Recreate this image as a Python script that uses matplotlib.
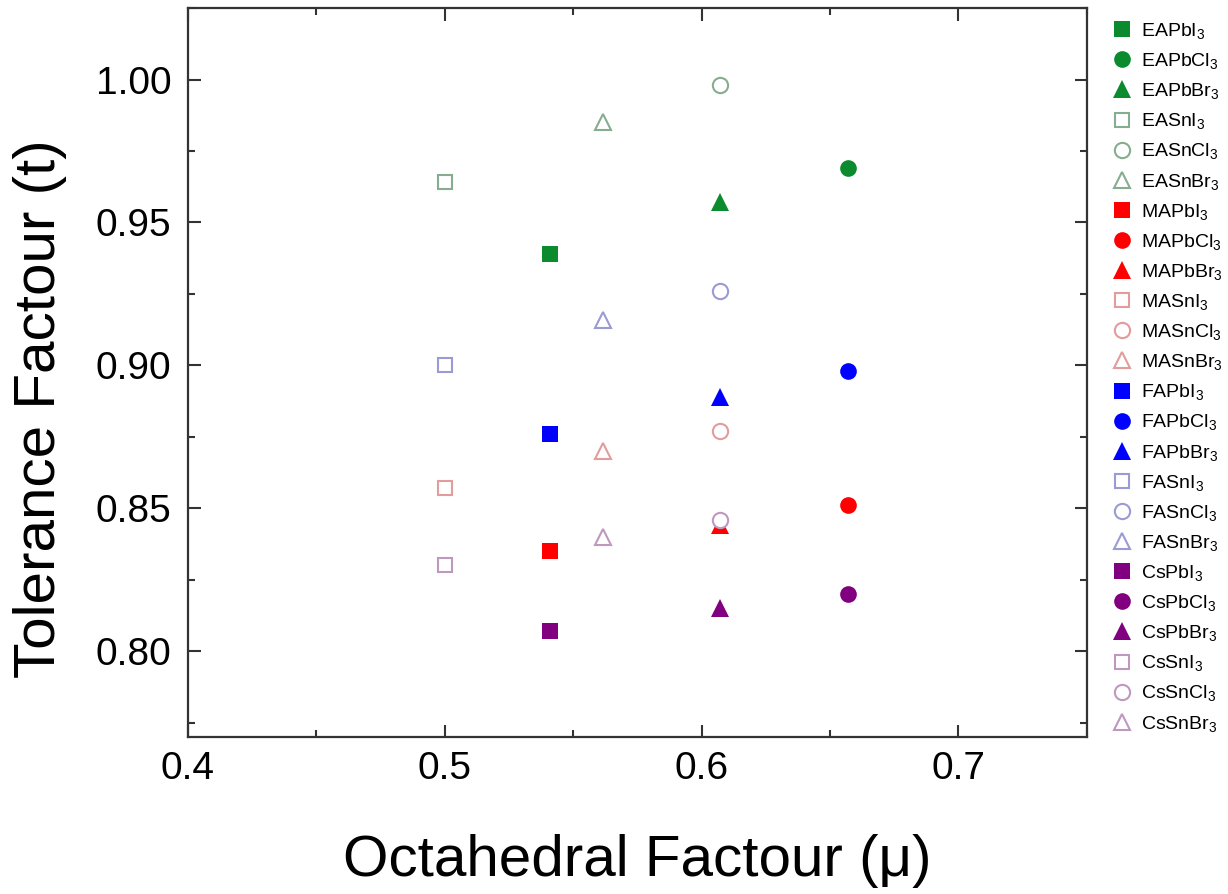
import matplotlib
matplotlib.use("Agg")
import matplotlib.pyplot as plt
from matplotlib.ticker import MultipleLocator, FormatStrFormatter

#######################data########################
cations = ["EA", "MA", "FA", "Cs"]
anions = ["PbI", "PbCl", "PbBr", "SnI", "SnCl", "SnBr"]
# octahedral factor (mu) for each B-X combination, same for every cation
mu_values = [0.541, 0.657, 0.607, 0.500, 0.607, 0.5615]
# tolerance factor (t) per cation, same order as anions
t_ea = [0.939, 0.969, 0.957, 0.964, 0.998, 0.985]
t_ma = [0.835, 0.851, 0.844, 0.857, 0.877, 0.870]
t_fa = [0.876, 0.898, 0.889, 0.900, 0.926, 0.916]
t_cs = [0.807, 0.820, 0.815, 0.830, 0.846, 0.840]
t_values = [t_ea, t_ma, t_fa, t_cs]

#######################styles########################
solid_colors = ["#0b8a2e", "#ff0000", "#0000ff", "#800080"]
open_colors = ["#86ad90", "#e29c9c", "#9a9ad4", "#bf98bf"]
markers = ["s", "o", "^", "s", "o", "^"]
marker_sizes = {"s": 11, "o": 12, "^": 13}

plt.rcParams["font.family"] = ["Liberation Sans", "DejaVu Sans"]
plt.rcParams["mathtext.default"] = "regular"

fig = plt.figure(figsize=(12.28, 8.94), dpi=100)
ax = fig.add_axes([0.153, 0.1756, 0.732, 0.8154])

for ci, cation in enumerate(cations):
    for ai, anion in enumerate(anions):
        m = markers[ai]
        label = cation + anion + "$_3$"
        if ai < 3:
            ax.plot(mu_values[ai], t_values[ci][ai], linestyle="none", marker=m,
                    markersize=marker_sizes[m], color=solid_colors[ci],
                    markeredgewidth=0, label=label)
        else:
            ax.plot(mu_values[ai], t_values[ci][ai], linestyle="none", marker=m,
                    markersize=marker_sizes[m] - 1, markerfacecolor="white",
                    markeredgecolor=open_colors[ci], markeredgewidth=1.5,
                    label=label)

#######################axes########################
ax.set_xlim(0.4, 0.75)
ax.set_ylim(0.77, 1.025)
ax.xaxis.set_major_locator(MultipleLocator(0.1))
ax.xaxis.set_minor_locator(MultipleLocator(0.05))
ax.yaxis.set_major_locator(MultipleLocator(0.05))
ax.yaxis.set_minor_locator(MultipleLocator(0.025))
ax.xaxis.set_major_formatter(FormatStrFormatter("%.1f"))
ax.yaxis.set_major_formatter(FormatStrFormatter("%.2f"))

for sp in ax.spines.values():
    sp.set_linewidth(1.6)
    sp.set_color("#333333")
ax.tick_params(which="both", direction="in", top=True, right=True,
               color="#333333", width=1.5)
ax.tick_params(which="major", length=9, labelsize=28)
ax.tick_params(which="minor", length=5)
ax.tick_params(axis="x", pad=10)
ax.tick_params(axis="y", pad=12)

ax.set_xlabel("Octahedral Factour (μ)", fontsize=42, va="center")
ax.set_ylabel("Tolerance Factour (t)", fontsize=42, va="center")
ax.xaxis.set_label_coords(0.5, -0.17)
ax.yaxis.set_label_coords(-0.165, 0.45)

fig.legend(loc="upper left", bbox_to_anchor=(1112 / 1228, 1 - 21 / 894),
           frameon=False, fontsize=14, handlelength=1.0, handletextpad=0.5,
           labelspacing=0.52, borderaxespad=0, borderpad=0, markerscale=1.0,
           numpoints=1)

fig.savefig("out.png", dpi=100)
